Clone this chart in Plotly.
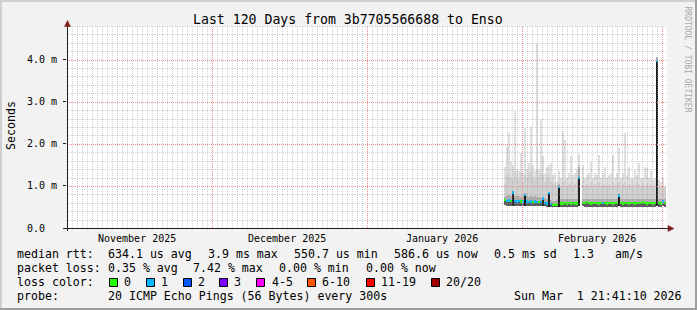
import plotly.graph_objects as go
import pandas as pd

# ---------------- data ----------------
title_text = "Last 120 Days from 3b7705566688 to Enso"
t_start = "2025-11-01 21:41:10"
t_end = "2026-03-01 21:41:10"
data_start = "2026-01-28 12:00"
step = "576min"

month_grid = ["2025-12-01", "2026-01-01", "2026-02-01", "2026-03-01"]
month_label_pos = ["2025-11-16", "2025-12-16", "2026-01-16", "2026-02-16"]
month_labels = ["November 2025", "December 2025", "January 2026", "February 2026"]

y_tickvals = [0, 1, 2, 3, 4]
y_ticktext = ["0.0\u00a0\u00a0", "1.0 m", "2.0 m", "3.0 m", "4.0 m"]

# median RTT (ms)
median = [
    0.66, 0.64, 0.65, 0.64, 0.84, 0.64, 0.63, 0.64, 0.63, 0.63,
    0.79, 0.63, 0.62, 0.63, 0.62, 0.63, 0.62, 0.62, 0.61, 0.70,
    0.60, 0.58, 0.83, 0.57, 0.56, 0.55, 0.56, 0.98, 0.58, 0.58,
    0.59, 0.58, 0.59, 0.58, 0.59, 0.58, 0.58, 1.19, None, 0.60,
    0.59, 0.62, 0.59, 0.58, 0.59, 0.60, 0.59, 0.58, 0.59, 0.60,
    0.59, 0.58, 0.59, 0.60, 0.58, 0.59, 0.60, 0.77, 0.59, 0.58,
    0.59, 0.60, 0.58, 0.59, 0.60, 0.58, 0.59, 0.60, 0.59, 0.61,
    0.59, 0.58, 0.60, 0.59, 0.58, 0.59, 3.97, 0.59, 0.58, 0.63,
    0.59]
# lost pings (of 20)
loss = [
    0, 1, 1, 0, 1, 1, 1, 1, 0, 1,
    1, 1, 1, 1, 0, 1, 1, 0, 1, 1,
    1, 1, 1, 1, 0, 0, 0, 1, 0, 0,
    0, 0, 0, 0, 0, 0, 0, 1, None, 0,
    0, 0, 0, 0, 0, 0, 0, 0, 0, 1,
    0, 0, 0, 0, 0, 0, 0, 1, 0, 0,
    0, 0, 0, 0, 0, 0, 0, 0, 0, 0,
    0, 0, 0, 0, 0, 0, 1, 0, 0, 1,
    0]
ping_min = [
    0.54, 0.53, 0.53, 0.53, 0.53, 0.53, 0.53, 0.53, 0.53, 0.53,
    0.53, 0.53, 0.53, 0.53, 0.53, 0.53, 0.52, 0.52, 0.52, 0.52,
    0.52, 0.51, 0.51, 0.50, 0.50, 0.49, 0.50, 0.51, 0.51, 0.51,
    0.51, 0.51, 0.51, 0.51, 0.51, 0.51, 0.51, 0.52, None, 0.52,
    0.51, 0.51, 0.51, 0.51, 0.51, 0.51, 0.51, 0.51, 0.51, 0.51,
    0.51, 0.51, 0.51, 0.51, 0.51, 0.51, 0.51, 0.52, 0.51, 0.51,
    0.51, 0.51, 0.51, 0.51, 0.51, 0.51, 0.51, 0.51, 0.51, 0.51,
    0.51, 0.51, 0.51, 0.51, 0.51, 0.51, 0.53, 0.51, 0.51, 0.52,
    0.51]
ping_q3 = [
    0.74, 0.76, 0.78, 0.75, 0.87, 0.77, 0.75, 0.76, 0.74, 0.75,
    0.82, 0.76, 0.74, 0.77, 0.73, 0.75, 0.74, 0.73, 0.72, 0.74,
    0.71, 0.69, 0.86, 0.67, 0.65, 0.64, 0.66, 1.04, 0.68, 0.69,
    0.70, 0.68, 0.69, 0.70, 0.68, 0.69, 0.68, 1.46, None, 0.70,
    0.68, 0.69, 0.68, 0.69, 0.70, 0.68, 0.69, 0.68, 0.69, 0.70,
    0.68, 0.69, 0.68, 0.70, 0.69, 0.68, 0.70, 0.80, 0.68, 0.69,
    0.68, 0.70, 0.68, 0.69, 0.68, 0.70, 0.68, 0.69, 0.68, 0.70,
    0.68, 0.69, 0.68, 0.70, 0.68, 0.69, 4.06, 0.68, 0.68, 0.70,
    0.68]
ping_p90 = [
    1.05, 1.25, 1.30, 1.20, 1.15, 1.35, 1.20, 1.15, 1.30, 1.10,
    1.25, 1.20, 1.30, 1.35, 1.20, 1.15, 1.40, 1.20, 1.30, 1.25,
    1.10, 1.20, 1.25, 1.15, 1.05, 1.10, 1.00, 1.15, 1.00, 1.10,
    1.15, 1.00, 1.05, 1.10, 1.00, 1.05, 1.10, 1.50, None, 1.15,
    1.00, 1.05, 1.00, 1.10, 1.00, 1.05, 1.00, 1.10, 1.00, 1.05,
    1.00, 1.00, 1.05, 1.00, 1.10, 1.00, 1.05, 1.10, 1.00, 1.05,
    1.10, 1.00, 1.05, 1.00, 1.05, 1.00, 1.10, 1.05, 1.00, 1.05,
    1.00, 1.05, 1.00, 1.05, 0.98, 1.00, 4.06, 1.00, 0.97, 1.00,
    0.95]
ping_max = [
    1.45, 1.92, 2.26, 1.58, 1.50, 2.77, 1.40, 1.35, 1.78, 1.30,
    2.37, 1.40, 1.55, 2.41, 1.50, 1.35, 4.40, 1.40, 2.57, 1.70,
    1.30, 1.45, 1.50, 1.55, 1.25, 1.30, 1.10, 1.35, 1.20, 2.30,
    2.10, 1.20, 1.30, 1.70, 1.25, 1.30, 1.40, 1.75, None, 1.50,
    1.20, 1.25, 1.30, 1.58, 1.20, 1.30, 1.25, 1.73, 1.20, 1.30,
    1.45, 1.20, 1.25, 1.30, 1.74, 1.20, 1.30, 1.90, 1.20, 1.30,
    2.26, 1.25, 1.45, 1.20, 1.20, 1.38, 1.25, 1.55, 1.20, 1.20,
    1.45, 1.43, 1.20, 1.35, 1.15, 1.20, 4.06, 1.15, 1.10, 1.20,
    1.00]

loss_names = ["0", "1", "2", "3", "4-5", "6-10", "11-19", "20/20"]
loss_colors = ["#26ff00", "#00b8ff", "#0059ff", "#7e00ff", "#ff00ff", "#ff5500", "#ff0000", "#a10000"]

stats_rtt = ["634.1 us avg", "3.9 ms max", "550.7 us min", "586.6 us now", "0.5 ms sd", "1.3", "am/s"]
stats_loss = ["0.35 % avg", "7.42 % max", "0.00 % min", "0.00 % now"]
probe_text = "20 ICMP Echo Pings (56 Bytes) every 300s"
stamp_text = "Sun Mar  1 21:41:10 2026"

# ---------------- geometry ----------------
W, H = 697, 310
L, R, T, B = 67, 30, 26, 82
PW = W - L - R
PH = H - T - B
YMAX = 4.8
FONT = "DejaVu Sans Mono"


def px(x):
    return (x - L) / PW


def py(y):
    return (H - B - y) / PH


def loss_color(v):
    if v is None:
        return "rgba(0,0,0,0)"
    if v <= 3:
        return loss_colors[int(v)]
    if v <= 5:
        return loss_colors[4]
    if v <= 10:
        return loss_colors[5]
    if v <= 19:
        return loss_colors[6]
    return loss_colors[7]


times = pd.date_range(data_start, periods=len(median), freq=step)
bar_w = pd.Timedelta(step).total_seconds() * 1000.0

fig = go.Figure()


def span(lo, hi):
    return [None if (a is None or b is None) else b - a for a, b in zip(lo, hi)]


for top, col in [(ping_max, "#dfdfdf"), (ping_p90, "#d0d0d0"), (ping_q3, "#adadad")]:
    fig.add_trace(go.Bar(
        x=times, y=span(ping_min, top), base=ping_min, width=bar_w,
        marker=dict(color=col, line=dict(width=0)),
        hoverinfo="skip", showlegend=False))

# dark core below the median (darker where the pings spread a lot)
core_cols = ["#1e1e1e" if (m is not None and m - lo > 0.15) else "#5c5c5c"
             for m, lo in zip(median, ping_min)]
fig.add_trace(go.Bar(
    x=times, y=span(ping_min, median), base=ping_min, width=bar_w,
    marker=dict(color=core_cols, line=dict(width=0)),
    hoverinfo="skip", showlegend=False))

med_h = 0.055
fig.add_trace(go.Bar(
    x=times, y=[None if m is None else med_h for m in median],
    base=[None if m is None else m - med_h / 2 for m in median], width=bar_w,
    marker=dict(color=[loss_color(v) for v in loss], line=dict(width=0)),
    hoverinfo="skip", showlegend=False))

fig.update_layout(
    width=W, height=H, margin=dict(l=L, r=R, t=T, b=B, pad=0),
    paper_bgcolor="#f2f2f2", plot_bgcolor="#ffffff",
    barmode="overlay", bargap=0, showlegend=False,
    xaxis=dict(type="date", range=[t_start, t_end], showticklabels=False, ticks="",
               showgrid=False, zeroline=False, showline=False, fixedrange=True),
    yaxis=dict(range=[0, YMAX], tickmode="array", tickvals=y_tickvals, ticktext=y_ticktext,
               ticks="outside", ticklen=3, tickcolor="#1f1f1f", tickwidth=1,
               ticklabelstandoff=4,
               tickfont=dict(family=FONT, size=10, color="#000000"),
               showgrid=False, zeroline=False, showline=False, fixedrange=True),
)

# ---------------- grid (drawn over the smoke, like rrdtool) ----------------
MAJOR = "rgb(236,140,140)"
MINOR = "rgba(150,150,150,0.45)"
DASH = "1px,1px"
shapes = []
month_set = set(pd.to_datetime(month_grid))
for d in pd.date_range("2025-11-02", "2026-03-01", freq="D"):
    if d in month_set:
        continue
    shapes.append(dict(type="line", xref="x", yref="paper", x0=d, x1=d, y0=0, y1=1,
                       line=dict(color=MINOR, width=1, dash=DASH), layer="above"))


def ypix(v):
    # snap a value line to the pixel grid for crisp 1px dots
    yy = round(H - B - v / YMAX * PH) + 0.5
    return py(yy)


for k in range(1, 25):
    if k % 5 == 0:
        continue
    v = k * 0.2
    shapes.append(dict(type="line", xref="paper", yref="paper", x0=0, x1=1,
                       y0=ypix(v), y1=ypix(v),
                       line=dict(color=MINOR, width=1, dash=DASH), layer="above"))
for d in month_grid:
    shapes.append(dict(type="line", xref="x", yref="paper", x0=d, x1=d, y0=0, y1=1,
                       line=dict(color=MAJOR, width=1, dash=DASH), layer="above"))
for v in [1, 2, 3, 4]:
    shapes.append(dict(type="line", xref="paper", yref="paper", x0=0, x1=1,
                       y0=ypix(v), y1=ypix(v),
                       line=dict(color=MAJOR, width=1, dash=DASH), layer="above"))

anns = []


def txt(x, y, s, size=11.6, anchor="left", color="#000000", angle=0):
    anns.append(dict(x=px(x), y=py(y), xref="paper", yref="paper",
                     text=s.replace(" ", "\u00a0"), showarrow=False, xanchor=anchor,
                     yanchor="middle", borderpad=0, textangle=angle,
                     font=dict(family=FONT, size=size, color=color)))


txt(347.5, 19.5, title_text, size=13.2, anchor="center")
txt(687.5, 59, "RRDTOOL / TOBI OETIKER", size=8, anchor="center", color="#a8a8a8", angle=90)
txt(11, 126, "Seconds", size=11.6, anchor="center", angle=-90)
for pos, lab in zip(month_label_pos, month_labels):
    anns.append(dict(x=pos, y=py(238), xref="x", yref="paper", text=lab.replace(" ", "\u00a0"),
                     showarrow=False, xanchor="center", yanchor="middle", borderpad=0,
                     font=dict(family=FONT, size=10, color="#000000")))

# legend lines
txt(15.5, 254, "median rtt:")
for xx, s in zip([106.5, 206.5, 292.8, 392.8, 492.8, 571.8, 613.8], stats_rtt):
    txt(xx, 254, s)
txt(15.5, 268, "packet loss:")
for xx, s in zip([106.8, 192.2, 277.8, 364.5], stats_loss):
    txt(xx, 268, s)
txt(15.5, 282, "loss color:")
box_x = [109, 146, 183, 219, 256, 307, 366, 431]
lab_x = [122.8, 160.2, 196.8, 233.2, 270.5, 321.2, 380.2, 445.2]
for xx, s in zip(lab_x, loss_names):
    txt(xx, 282, s)
txt(15.5, 296, "probe:")
txt(106.8, 296, probe_text)
txt(512.8, 296, stamp_text)

for bx, c in zip(box_x, loss_colors):
    shapes.append(dict(type="rect", xref="paper", yref="paper", x0=px(bx + 0.5), x1=px(bx + 8.5),
                       y0=py(286.5), y1=py(278.5), fillcolor=c, line=dict(color="#000000", width=1)))

AX = "#1f1f1f"
ARROW = "#7f1f1f"
shapes += [
    dict(type="line", xref="paper", yref="paper", x0=px(67.5), x1=px(67.5), y0=py(231), y1=py(24),
         line=dict(color=AX, width=1), layer="above"),
    dict(type="line", xref="paper", yref="paper", x0=px(63), x1=px(669), y0=py(228.5), y1=py(228.5),
         line=dict(color=AX, width=1), layer="above"),
    dict(type="path", xref="paper", yref="paper",
         path=f"M {px(64.5)},{py(26.5)} L {px(70.5)},{py(26.5)} L {px(67.5)},{py(20.5)} Z",
         fillcolor=ARROW, line=dict(color=ARROW, width=0.5), layer="above"),
    dict(type="path", xref="paper", yref="paper",
         path=f"M {px(668)},{py(225.5)} L {px(668)},{py(231.5)} L {px(674)},{py(228.5)} Z",
         fillcolor=ARROW, line=dict(color=ARROW, width=0.5), layer="above"),
    # frame shading
    dict(type="rect", xref="paper", yref="paper", x0=px(0), x1=px(W), y0=py(0), y1=py(2),
         fillcolor="#cfcfcf", line=dict(width=0), layer="above"),
    dict(type="rect", xref="paper", yref="paper", x0=px(0), x1=px(2), y0=py(0), y1=py(H),
         fillcolor="#cfcfcf", line=dict(width=0), layer="above"),
    dict(type="rect", xref="paper", yref="paper", x0=px(0), x1=px(W), y0=py(H - 2), y1=py(H),
         fillcolor="#9e9e9e", line=dict(width=0), layer="above"),
    dict(type="rect", xref="paper", yref="paper", x0=px(W - 2), x1=px(W), y0=py(0), y1=py(H),
         fillcolor="#9e9e9e", line=dict(width=0), layer="above"),
]

fig.update_layout(annotations=anns, shapes=shapes)
fig.write_html("out.html")
